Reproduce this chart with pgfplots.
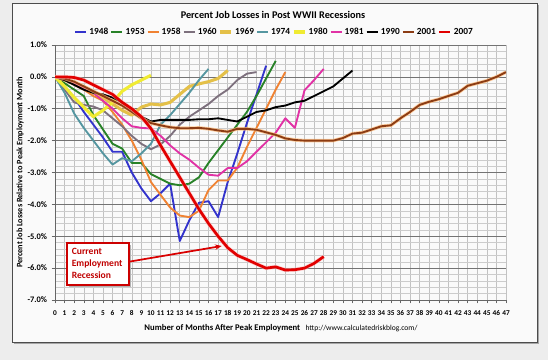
\documentclass[border=0pt]{standalone}
\usepackage{fontspec}
\setmainfont{Carlito}
\usepackage{pgfplots}
\pgfplotsset{compat=1.18}
\usetikzlibrary{arrows.meta}
\definecolor{c1948}{RGB}{51,51,204}
\definecolor{c1953}{RGB}{40,130,40}
\definecolor{c1958}{RGB}{240,130,50}
\definecolor{c1960}{RGB}{125,112,125}
\definecolor{c1969}{RGB}{228,192,72}
\definecolor{c1974}{RGB}{85,150,160}
\definecolor{c1980}{RGB}{240,235,50}
\definecolor{c1981}{RGB}{225,50,165}
\definecolor{c1990}{RGB}{0,0,0}
\definecolor{c2001}{RGB}{140,60,20}
\definecolor{c2007}{RGB}{225,0,0}
\definecolor{boxred}{RGB}{192,0,0}
\begin{document}
\begin{tikzpicture}[x=0.75pt,y=0.75pt]
\fill[black!7] (0,0) rectangle (548,360);
\fill[black!35] (14,16) rectangle (539,355);
\filldraw[fill=black!2, draw=black!70, line width=0.6pt] (12,18) rectangle (537,357);
\node[font=\bfseries\fontsize{7.7}{9}\selectfont] at (273,345) {Percent Job Losses in Post WWII Recessions};
\node[rotate=90, font=\bfseries\fontsize{6.2}{7}\selectfont] at (20,187.5) {Percent Job Losses Relative to Peak Employment Month};
\node[anchor=center] at (281,32) {{\bfseries\fontsize{6.5}{8}\selectfont Number of Months After Peak Employment}\hspace{4pt}{\fontsize{5.7}{7}\selectfont http://www.calculatedriskblog.com/}};
\begin{axis}[
  at={(41.25pt,45pt)}, anchor=south west,
  scale only axis, width=338.25pt, height=191.25pt,
  xmin=0, xmax=47, ymin=-7, ymax=1,
  xtick={0,...,47},
  ytick={-7,...,1},
  yticklabels={-7.0\%,-6.0\%,-5.0\%,-4.0\%,-3.0\%,-2.0\%,-1.0\%,0.0\%,1.0\%},
  minor y tick num=4,
  xmajorgrids, ymajorgrids, yminorgrids,
  major x grid style={black!24, line width=0.4pt},
  major y grid style={black!55, line width=0.5pt},
  minor y grid style={black!20, line width=0.35pt},
  /pgf/number format/assume math mode=true,
  yticklabel style={font=\bfseries\fontsize{6.3}{7}\selectfont},
  xticklabel style={font=\bfseries\fontsize{5.5}{6}\selectfont, yshift=-2pt},
  tick align=outside, major tick length=2.5pt, minor tick length=0pt,
  tick style={black!60, line width=0.4pt},
  axis lines*=left, axis line style={black!60, line width=0.6pt},
  legend columns=11,
  legend style={at={(0.487,1.051)}, anchor=center, draw=none, fill=none,
    font=\bfseries\fontsize{7}{8}\selectfont, nodes={inner xsep=1.6pt},
    /tikz/every even column/.append style={column sep=0pt}},
  legend image code/.code={\draw[#1] (0pt,0pt) -- (8.3pt,0pt);},
  every axis plot/.append style={line width=1.4pt, line join=round},
]
\addplot[c1948] coordinates {(0,0)(1,-0.3)(2,-0.65)(3,-1.1)(4,-1.5)(5,-1.9)(6,-2.35)(7,-2.35)(8,-3.0)(9,-3.5)(10,-3.9)(11,-3.65)(12,-3.35)(13,-5.15)(14,-4.5)(15,-3.95)(16,-3.9)(17,-4.4)(18,-3.3)(19,-2.4)(20,-1.45)(21,-0.55)(22,0.35)};
\addlegendentry{1948}
\addplot[c1953] coordinates {(0,0)(1,-0.2)(2,-0.4)(3,-0.6)(4,-1.2)(5,-1.65)(6,-2.1)(7,-2.25)(8,-2.7)(9,-2.7)(10,-3.05)(11,-3.2)(12,-3.35)(13,-3.4)(14,-3.35)(15,-3.15)(16,-2.7)(17,-2.3)(18,-1.9)(19,-1.5)(20,-1.1)(21,-0.6)(22,-0.05)(23,0.5)};
\addlegendentry{1953}
\addplot[c1958] coordinates {(0,0)(1,-0.1)(2,-0.25)(3,-0.4)(4,-0.6)(5,-0.75)(6,-1.1)(7,-1.5)(8,-2.0)(9,-2.6)(10,-3.3)(11,-3.7)(12,-4.1)(13,-4.35)(14,-4.4)(15,-4.2)(16,-3.55)(17,-3.25)(18,-3.25)(19,-2.85)(20,-2.2)(21,-1.6)(22,-1.0)(23,-0.4)(24,0.15)};
\addlegendentry{1958}
\addplot[c1960] coordinates {(0,0)(1,-0.4)(2,-0.8)(3,-0.88)(4,-0.93)(5,-1.05)(6,-1.3)(7,-1.55)(8,-1.85)(9,-2.1)(10,-2.27)(11,-2.12)(12,-1.85)(13,-1.5)(14,-1.25)(15,-1.05)(16,-0.85)(17,-0.6)(18,-0.4)(19,-0.1)(20,0.1)(21,0.15)};
\addlegendentry{1960}
\addplot[c1969, line width=2.3pt] coordinates {(0,0)(1,-0.1)(2,-0.2)(3,-0.35)(4,-0.5)(5,-0.65)(6,-0.85)(7,-1.05)(8,-1.2)(9,-0.95)(10,-0.85)(11,-0.88)(12,-0.8)(13,-0.55)(14,-0.3)(15,-0.22)(16,-0.15)(17,-0.05)(18,0.2)};
\addlegendentry{1969}
\addplot[c1974] coordinates {(0,0)(1,-0.5)(2,-1.15)(3,-1.6)(4,-2.0)(5,-2.4)(6,-2.75)(7,-2.55)(8,-2.65)(9,-2.4)(10,-2.1)(11,-1.5)(12,-1.2)(13,-0.85)(14,-0.5)(15,-0.1)(16,0.25)};
\addlegendentry{1974}
\addplot[c1980, line width=2.3pt] coordinates {(0,0)(1,-0.3)(2,-0.65)(3,-0.95)(4,-1.25)(5,-1.05)(6,-0.8)(7,-0.45)(8,-0.25)(9,-0.1)(10,0.05)};
\addlegendentry{1980}
\addplot[c1981] coordinates {(0,0)(1,-0.1)(2,-0.2)(3,-0.35)(4,-0.5)(5,-0.75)(6,-1.0)(7,-1.3)(8,-1.55)(9,-1.6)(10,-1.62)(11,-1.85)(12,-2.15)(13,-2.4)(14,-2.6)(15,-2.85)(16,-3.07)(17,-3.1)(18,-2.86)(19,-2.86)(20,-2.65)(21,-2.35)(22,-2.05)(23,-1.75)(24,-1.3)(25,-1.6)(26,-0.42)(27,-0.1)(28,0.25)};
\addlegendentry{1981}
\addplot[c1990] coordinates {(0,0)(1,-0.1)(2,-0.25)(3,-0.4)(4,-0.5)(5,-0.55)(6,-0.65)(7,-0.8)(8,-1.0)(9,-1.25)(10,-1.4)(11,-1.35)(12,-1.35)(13,-1.35)(14,-1.35)(15,-1.33)(16,-1.33)(17,-1.3)(18,-1.35)(19,-1.4)(20,-1.25)(21,-1.1)(22,-1.05)(23,-0.95)(24,-0.9)(25,-0.8)(26,-0.75)(27,-0.6)(28,-0.45)(29,-0.3)(30,-0.05)(31,0.2)};
\addlegendentry{1990}
\addplot[orange!55!white, line width=2.6pt, opacity=0.7, forget plot] coordinates {(0,0)(1,-0.05)(2,-0.15)(3,-0.3)(4,-0.45)(5,-0.6)(6,-0.75)(7,-0.9)(8,-1.1)(9,-1.3)(10,-1.45)(11,-1.52)(12,-1.58)(13,-1.61)(14,-1.61)(15,-1.6)(16,-1.63)(17,-1.68)(18,-1.72)(19,-1.63)(20,-1.63)(21,-1.66)(22,-1.74)(23,-1.82)(24,-1.93)(25,-1.98)(26,-2.0)(27,-2.0)(28,-2.0)(29,-2.0)(30,-1.92)(31,-1.78)(32,-1.75)(33,-1.65)(34,-1.55)(35,-1.52)(36,-1.3)(37,-1.1)(38,-0.88)(39,-0.78)(40,-0.7)(41,-0.6)(42,-0.5)(43,-0.28)(44,-0.2)(45,-0.12)(46,0.0)(47,0.15)};
\addplot[c2001] coordinates {(0,0)(1,-0.05)(2,-0.15)(3,-0.3)(4,-0.45)(5,-0.6)(6,-0.75)(7,-0.9)(8,-1.1)(9,-1.3)(10,-1.45)(11,-1.52)(12,-1.58)(13,-1.61)(14,-1.61)(15,-1.6)(16,-1.63)(17,-1.68)(18,-1.72)(19,-1.63)(20,-1.63)(21,-1.66)(22,-1.74)(23,-1.82)(24,-1.93)(25,-1.98)(26,-2.0)(27,-2.0)(28,-2.0)(29,-2.0)(30,-1.92)(31,-1.78)(32,-1.75)(33,-1.65)(34,-1.55)(35,-1.52)(36,-1.3)(37,-1.1)(38,-0.88)(39,-0.78)(40,-0.7)(41,-0.6)(42,-0.5)(43,-0.28)(44,-0.2)(45,-0.12)(46,0.0)(47,0.15)};
\addlegendentry{2001}
\addplot[red!30!white, line width=3.0pt, opacity=0.6, forget plot] coordinates {(0,0)(1,0)(2,-0.02)(3,-0.1)(4,-0.25)(5,-0.4)(6,-0.55)(7,-0.8)(8,-1.0)(9,-1.25)(10,-1.62)(11,-2.15)(12,-2.65)(13,-3.15)(14,-3.65)(15,-4.15)(16,-4.6)(17,-5.0)(18,-5.36)(19,-5.6)(20,-5.73)(21,-5.87)(22,-6.0)(23,-5.96)(24,-6.06)(25,-6.05)(26,-6.0)(27,-5.85)(28,-5.64)};
\addplot[c2007, line width=2.0pt] coordinates {(0,0)(1,0)(2,-0.02)(3,-0.1)(4,-0.25)(5,-0.4)(6,-0.55)(7,-0.8)(8,-1.0)(9,-1.25)(10,-1.62)(11,-2.15)(12,-2.65)(13,-3.15)(14,-3.65)(15,-4.15)(16,-4.6)(17,-5.0)(18,-5.36)(19,-5.6)(20,-5.73)(21,-5.87)(22,-6.0)(23,-5.96)(24,-6.06)(25,-6.05)(26,-6.0)(27,-5.85)(28,-5.64)};
\addlegendentry{2007}
\end{axis}
\fill[black!30] (69,73) rectangle (131,115);
\filldraw[fill=white, draw=red!80!black, line width=1.2pt] (67,75) rectangle (129,117);
\node[anchor=west, align=left, text=boxred, font=\bfseries\fontsize{7.2}{9}\selectfont, inner sep=0pt] at (71.5,96.5) {Current\\Employment\\Recession};
\draw[red!85!black, line width=1.3pt, -{Stealth[length=5pt,width=4pt]}] (129,98.3) -- (221.7,114);
\end{tikzpicture}
\end{document}
